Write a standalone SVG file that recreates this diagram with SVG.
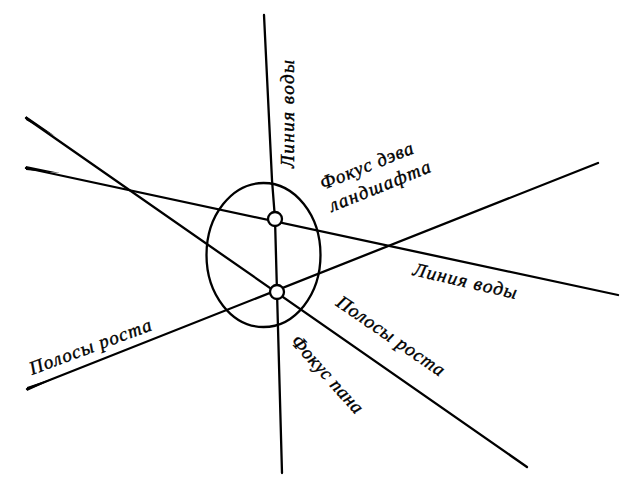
<svg xmlns="http://www.w3.org/2000/svg" width="620" height="480" viewBox="0 0 620 480">
<style>
.ln{fill:none;stroke:#000;stroke-width:2.3;stroke-linecap:round;stroke-linejoin:round}
.fc{fill:#fff;stroke:#000;stroke-width:2.3}
.lb{font-family:"Liberation Serif","DejaVu Serif",serif;font-style:italic;font-size:19px;fill:#000;stroke:#000;stroke-width:0.4}
</style>
<rect width="620" height="480" fill="#fff"/>
<g id="connectors">
<path class="ln" d="M264,15 L272,180 L275,219 L277,292 L282,473"/>
<path class="ln" d="M26,168 L618,295"/>
<path class="ln" d="M26,118 L527,467"/>
<path class="ln" d="M27,389 L598,163"/>
<path d="M26,166 L60,173 L26,170 Z M26,116 L55,136 L26,120 Z M27,387 L60,376 L27,391 Z" fill="#000"/>
</g>
<g id="landscape-ellipse">
<ellipse class="ln" cx="263.5" cy="255" rx="57" ry="72"/>
</g>
<g id="focus-deva">
<circle class="fc" cx="275" cy="219" r="7"/>
</g>
<g id="focus-pana">
<circle class="fc" cx="277" cy="292" r="7"/>
</g>
<g id="labels">
<text class="lb" transform="translate(294,168) rotate(-90)" textLength="108" lengthAdjust="spacing">Линия воды</text>
<text class="lb" transform="translate(323,190) rotate(-22)" textLength="99" lengthAdjust="spacing">Фокус дэва</text>
<text class="lb" transform="translate(332,212) rotate(-22)" textLength="108" lengthAdjust="spacing">ландшафта</text>
<text class="lb" transform="translate(412,275) rotate(13)" textLength="106" lengthAdjust="spacing">Линия воды</text>
<text class="lb" transform="translate(335,305) rotate(34.5)" textLength="127" lengthAdjust="spacing">Полосы роста</text>
<text class="lb" transform="translate(290,342) rotate(48)" textLength="98" lengthAdjust="spacing">Фокус пана</text>
<text class="lb" transform="translate(32,375) rotate(-20.5)" textLength="129" lengthAdjust="spacing">Полосы роста</text>
</g>
</svg>
